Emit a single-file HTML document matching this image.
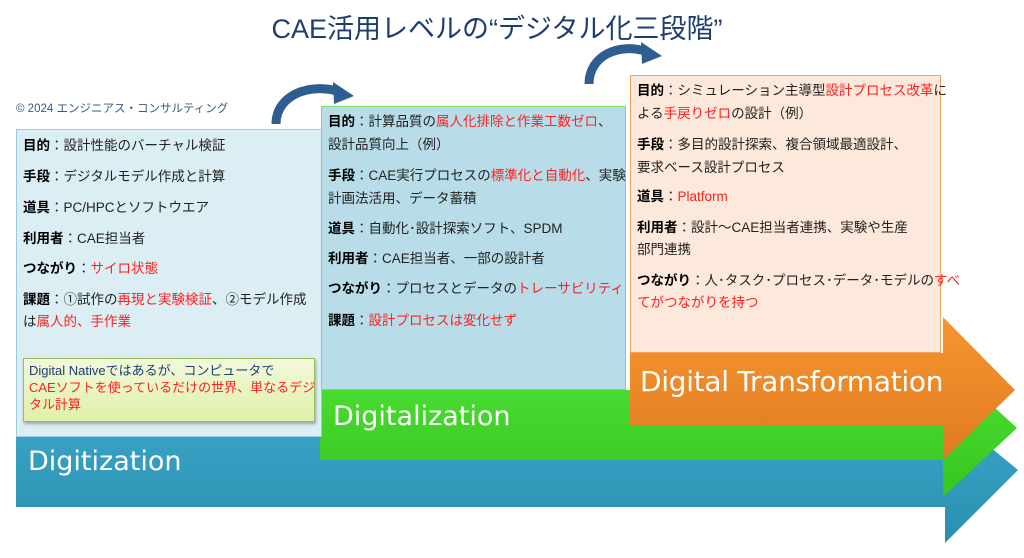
<!DOCTYPE html>
<html><head><meta charset="utf-8"><style>
body{margin:0;width:1024px;height:558px;background:#fff;position:relative;overflow:hidden;font-family:"Liberation Sans","Noto Sans CJK JP",sans-serif;}
.abs{position:absolute}
.box{position:absolute;box-sizing:border-box;font-size:13.5px;color:#222;}
.box p{margin:0;position:absolute;left:6px;right:4px;line-height:22px;white-space:nowrap}
b{font-weight:bold;color:#000}
.r{color:#ff2020}
.bar{position:absolute;color:#fff;font-family:"DejaVu Sans","Liberation Sans",sans-serif;}
</style></head><body>
<svg class="abs" style="left:0;top:0" width="1024" height="558">
 <defs>
  <linearGradient id="gb" x1="0" y1="0" x2="0" y2="1"><stop offset="0" stop-color="#3aa6c8"/><stop offset="1" stop-color="#2b8fb0"/></linearGradient>
  <linearGradient id="gg" x1="0" y1="0" x2="0" y2="1"><stop offset="0" stop-color="#4fe036"/><stop offset="1" stop-color="#36c61f"/></linearGradient>
  <linearGradient id="go" x1="0" y1="0" x2="0" y2="1"><stop offset="0" stop-color="#f7962f"/><stop offset="1" stop-color="#e07a22"/></linearGradient>
 </defs>
 <polygon points="16,437 945,437 945,410 1018,470 945,543 945,507 16,507" fill="url(#gb)"/>
 <polygon points="320,390 943,390 943,360 1017,428 943,497 943,460 320,460" fill="url(#gg)"/>
 <polygon points="630,353 943,353 943,317 1015,390 943,460 943,425 630,425" fill="url(#go)"/>
 <path d="M276,124 C276,95 310,82 340,92" stroke="#2e5d90" stroke-width="9" fill="none"/>
 <polygon points="333,82 354,96 334,104" fill="#2e5d90"/>
 <path d="M589,84 C589,55 620,42 648,52" stroke="#2e5d90" stroke-width="9" fill="none"/>
 <polygon points="641,42 662,56 642,64" fill="#2e5d90"/>
</svg>
<div class="abs" style="left:0;width:994px;top:7px;text-align:center;font-size:27px;color:#1f3e6e">CAE活用レベルの“デジタル化三段階”</div>
<div class="abs" style="left:16px;top:100px;font-size:11.5px;color:#3a5a80">© 2024 エンジニアス・コンサルティング</div>

<div class="box" style="left:16px;top:129px;width:306px;height:308px;background:#daeef4;border:1px solid #9ccbe0">
 <p style="top:5px"><b>目的</b>：設計性能のバーチャル検証</p>
 <p style="top:36px"><b>手段</b>：デジタルモデル作成と計算</p>
 <p style="top:67px"><b>道具</b>：PC/HPCとソフトウエア</p>
 <p style="top:98px"><b>利用者</b>：CAE担当者</p>
 <p style="top:128px"><b>つながり</b>：<span class="r">サイロ状態</span></p>
 <p style="top:159px"><b>課題</b>：①試作の<span class="r">再現と実験検証</span>、②モデル作成</p>
 <p style="top:181px">は<span class="r">属人的、手作業</span></p>
</div>
<div class="abs" style="left:23px;top:358px;width:292px;height:64px;box-sizing:border-box;background:linear-gradient(#f2f9dc,#dff0a8);border:1px solid #9bbb59;box-shadow:1px 2px 3px rgba(0,0,0,.3);font-size:13px;line-height:17px;padding:3px 5px;color:#1f3e6e;white-space:nowrap;overflow:hidden">Digital Nativeではあるが、コンピュータで<br><span class="r">CAEソフトを使っているだけの世界、単なるデジ<br>タル計算</span></div>

<div class="box" style="left:321px;top:106px;width:305px;height:284px;background:#b8dde8;border:1px solid #7de05a">
 <p style="top:4px"><b>目的</b>：計算品質の<span class="r">属人化排除と作業工数ゼロ</span>、</p>
 <p style="top:27px">設計品質向上（例）</p>
 <p style="top:58px"><b>手段</b>：CAE実行プロセスの<span class="r">標準化と自動化</span>、実験</p>
 <p style="top:81px">計画法活用、データ蓄積</p>
 <p style="top:111px"><b>道具</b>：自動化･設計探索ソフト、SPDM</p>
 <p style="top:141px"><b>利用者</b>：CAE担当者、一部の設計者</p>
 <p style="top:171px"><b>つながり</b>：プロセスとデータの<span class="r">トレーサビリティ</span></p>
 <p style="top:203px"><b>課題</b>：<span class="r">設計プロセスは変化せず</span></p>
</div>

<div class="box" style="left:630px;top:75px;width:311px;height:278px;background:#fde9db;border:1px solid #f5a35a">
 <p style="top:4px"><b>目的</b>：シミュレーション主導型<span class="r">設計プロセス改革</span>に</p>
 <p style="top:27px">よる<span class="r">手戻りゼロ</span>の設計（例）</p>
 <p style="top:58px"><b>手段</b>：多目的設計探索、複合領域最適設計、</p>
 <p style="top:81px">要求ベース設計プロセス</p>
 <p style="top:110px"><b>道具</b>：<span class="r">Platform</span></p>
 <p style="top:141px"><b>利用者</b>：設計～CAE担当者連携、実験や生産</p>
 <p style="top:163px">部門連携</p>
 <p style="top:194px"><b>つながり</b>：人･タスク･プロセス･データ･モデルの<span class="r">すべ</span></p>
 <p style="top:216px"><span class="r">てがつながりを持つ</span></p>
</div>

<div class="bar" style="left:28px;top:446px;font-size:27px">Digitization</div>
<div class="bar" style="left:333px;top:401px;font-size:27px">Digitalization</div>
<div class="bar" style="left:640px;top:365px;font-size:28px;letter-spacing:-0.3px">Digital Transformation</div>
</body></html>
